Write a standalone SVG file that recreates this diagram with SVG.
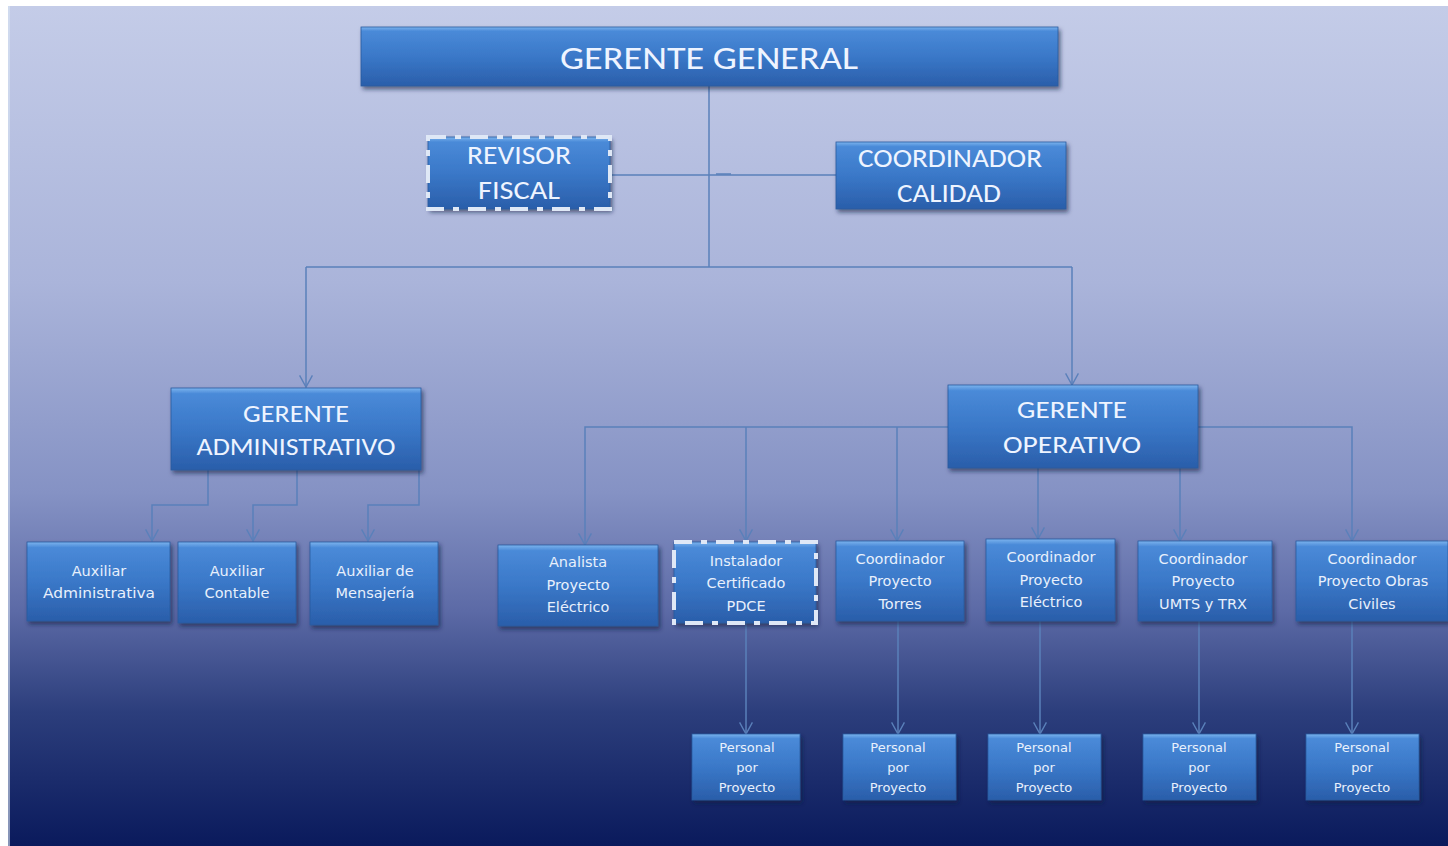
<svg xmlns="http://www.w3.org/2000/svg" width="1448" height="846" viewBox="0 0 1448 846">
<defs>
<linearGradient id="bg" x1="0" y1="0" x2="0" y2="1">
<stop offset="0" stop-color="#c4cce8"/>
<stop offset="0.33" stop-color="#aab4da"/>
<stop offset="0.58" stop-color="#8592c4"/>
<stop offset="0.72" stop-color="#5c6aa6"/>
<stop offset="0.84" stop-color="#2c3e7c"/>
<stop offset="1" stop-color="#0a1a5c"/>
</linearGradient>
<linearGradient id="box" x1="0" y1="0" x2="0" y2="1">
<stop offset="0" stop-color="#7cb4ee"/>
<stop offset="0.07" stop-color="#4a8ad8"/>
<stop offset="0.5" stop-color="#3a78c8"/>
<stop offset="1" stop-color="#2a5eaa"/>
</linearGradient>
<filter id="sh" x="-10%" y="-10%" width="125%" height="135%">
<feDropShadow dx="2" dy="3" stdDeviation="2" flood-color="#0a1a40" flood-opacity="0.6"/>
</filter>
<marker id="arr" markerUnits="userSpaceOnUse" markerWidth="14" markerHeight="14" refX="10" refY="6" orient="auto" viewBox="0 0 12 12">
<path d="M0,0.5 L10,6 L0,11.5" fill="none" stroke="#5a80ba" stroke-width="1.2"/>
</marker>
<style>
.b{fill:url(#box);filter:url(#sh);stroke:#2a5a9e;stroke-width:0.8}
.d{fill:none;stroke:#dfe8f6;stroke-width:4;stroke-dasharray:18 9 6 9}
.big{font-family:Carlito,"Open Sans","Liberation Sans",sans-serif;fill:#eef4ff;text-anchor:middle}
.sm{font-family:"DejaVu Sans",sans-serif;fill:#e8f0fc;text-anchor:middle}
.c path{fill:none;stroke:#5a80ba;stroke-width:1.5}
.c .a{marker-end:url(#arr)}
</style>
</defs>
<rect x="0" y="0" width="1448" height="846" fill="#ffffff"/>
<rect x="8" y="6" width="1440" height="840" fill="url(#bg)"/>
<rect x="8" y="6" width="2" height="840" fill="#d8e4f4" opacity="0.6"/>

<g class="c" id="connectors">
<path d="M709,86 V267"/>
<path d="M612,175 H836"/>
<path d="M716,174 H731" stroke-width="2.5"/>
<path d="M306,267 H1072"/>
<path class="a" d="M306,267 V387"/>
<path class="a" d="M1072,267 V385"/>
<path class="a" d="M208,470 V505 H152 V541"/>
<path class="a" d="M297,470 V505 H253 V541"/>
<path class="a" d="M419,470 V505 H368 V541"/>
<path class="a" d="M948,427 H585 V545"/>
<path class="a" d="M746,427 V541"/>
<path class="a" d="M897,427 V541"/>
<path class="a" d="M1198,427 H1352 V541"/>
<path class="a" d="M1038,468 V539"/>
<path class="a" d="M1180,468 V541"/>
<path class="a" d="M746,623 V734"/>
<path class="a" d="M898,621 V734"/>
<path class="a" d="M1040,621 V734"/>
<path class="a" d="M1199,621 V734"/>
<path class="a" d="M1352,621 V734"/>
</g>

<g id="gerente-general">
<rect class="b" x="361" y="27" width="697" height="59"/>
<text class="big" x="709" y="69" font-size="33" textLength="298" lengthAdjust="spacingAndGlyphs">GERENTE GENERAL</text>
</g>
<g id="revisor-fiscal">
<rect class="b" x="428" y="137" width="182" height="72"/>
<rect class="d" x="428" y="137" width="182" height="72"/>
<text class="big" x="519" y="164" font-size="26" textLength="104" lengthAdjust="spacingAndGlyphs">REVISOR</text>
<text class="big" x="519" y="199" font-size="26" textLength="82" lengthAdjust="spacingAndGlyphs">FISCAL</text>
</g>
<g id="coordinador-calidad">
<rect class="b" x="836" y="142" width="230" height="67"/>
<text class="big" x="950" y="167" font-size="26" textLength="184" lengthAdjust="spacingAndGlyphs">COORDINADOR</text>
<text class="big" x="949" y="202" font-size="26" textLength="104" lengthAdjust="spacingAndGlyphs">CALIDAD</text>
</g>
<g id="gerente-administrativo">
<rect class="b" x="171" y="388" width="250" height="82"/>
<text class="big" x="296" y="422" font-size="25" textLength="106" lengthAdjust="spacingAndGlyphs">GERENTE</text>
<text class="big" x="296" y="455" font-size="25" textLength="199" lengthAdjust="spacingAndGlyphs">ADMINISTRATIVO</text>
</g>
<g id="gerente-operativo">
<rect class="b" x="948" y="385" width="250" height="83"/>
<text class="big" x="1072" y="418" font-size="25" textLength="110" lengthAdjust="spacingAndGlyphs">GERENTE</text>
<text class="big" x="1072" y="453" font-size="25" textLength="138" lengthAdjust="spacingAndGlyphs">OPERATIVO</text>
</g>

<g id="aux-administrativa">
<rect class="b" x="27" y="542" width="143" height="79"/>
<text class="sm" x="99" y="576" font-size="14.5">Auxiliar</text>
<text class="sm" x="99" y="598" font-size="14.5" textLength="112" lengthAdjust="spacingAndGlyphs">Administrativa</text>
</g>
<g id="aux-contable">
<rect class="b" x="178" y="542" width="118" height="81"/>
<text class="sm" x="237" y="576" font-size="14.5">Auxiliar</text>
<text class="sm" x="237" y="598" font-size="14.5">Contable</text>
</g>
<g id="aux-mensajeria">
<rect class="b" x="310" y="542" width="128" height="83"/>
<text class="sm" x="375" y="576" font-size="14.5">Auxiliar de</text>
<text class="sm" x="375" y="598" font-size="14.5">Mensajería</text>
</g>

<g id="analista">
<rect class="b" x="498" y="545" width="160" height="81"/>
<text class="sm" x="578" y="567" font-size="14.5">Analista</text>
<text class="sm" x="578" y="590" font-size="14.5">Proyecto</text>
<text class="sm" x="578" y="612" font-size="14.5">Eléctrico</text>
</g>
<g id="instalador">
<rect class="b" x="674" y="542" width="142" height="81"/>
<rect class="d" x="674" y="542" width="142" height="81"/>
<text class="sm" x="746" y="566" font-size="14.5">Instalador</text>
<text class="sm" x="746" y="588" font-size="14.5">Certificado</text>
<text class="sm" x="746" y="611" font-size="14.5">PDCE</text>
</g>
<g id="coord-torres">
<rect class="b" x="836" y="541" width="128" height="80"/>
<text class="sm" x="900" y="564" font-size="14.5">Coordinador</text>
<text class="sm" x="900" y="586" font-size="14.5">Proyecto</text>
<text class="sm" x="900" y="609" font-size="14.5">Torres</text>
</g>
<g id="coord-electrico">
<rect class="b" x="986" y="539" width="129" height="82"/>
<text class="sm" x="1051" y="562" font-size="14.5">Coordinador</text>
<text class="sm" x="1051" y="585" font-size="14.5">Proyecto</text>
<text class="sm" x="1051" y="607" font-size="14.5">Eléctrico</text>
</g>
<g id="coord-umts">
<rect class="b" x="1138" y="541" width="134" height="80"/>
<text class="sm" x="1203" y="564" font-size="14.5">Coordinador</text>
<text class="sm" x="1203" y="586" font-size="14.5">Proyecto</text>
<text class="sm" x="1203" y="609" font-size="14.5">UMTS y TRX</text>
</g>
<g id="coord-obras">
<rect class="b" x="1296" y="541" width="152" height="80"/>
<text class="sm" x="1372" y="564" font-size="14.5">Coordinador</text>
<text class="sm" x="1373" y="586" font-size="14.5">Proyecto Obras</text>
<text class="sm" x="1372" y="609" font-size="14.5">Civiles</text>
</g>

<g id="personal-1">
<rect class="b" x="692" y="734" width="108" height="66"/>
<text class="sm" x="747" y="752" font-size="13">Personal</text>
<text class="sm" x="747" y="772" font-size="13">por</text>
<text class="sm" x="747" y="792" font-size="13">Proyecto</text>
</g>
<g id="personal-2">
<rect class="b" x="843" y="734" width="113" height="66"/>
<text class="sm" x="898" y="752" font-size="13">Personal</text>
<text class="sm" x="898" y="772" font-size="13">por</text>
<text class="sm" x="898" y="792" font-size="13">Proyecto</text>
</g>
<g id="personal-3">
<rect class="b" x="988" y="734" width="113" height="66"/>
<text class="sm" x="1044" y="752" font-size="13">Personal</text>
<text class="sm" x="1044" y="772" font-size="13">por</text>
<text class="sm" x="1044" y="792" font-size="13">Proyecto</text>
</g>
<g id="personal-4">
<rect class="b" x="1143" y="734" width="113" height="66"/>
<text class="sm" x="1199" y="752" font-size="13">Personal</text>
<text class="sm" x="1199" y="772" font-size="13">por</text>
<text class="sm" x="1199" y="792" font-size="13">Proyecto</text>
</g>
<g id="personal-5">
<rect class="b" x="1306" y="734" width="113" height="66"/>
<text class="sm" x="1362" y="752" font-size="13">Personal</text>
<text class="sm" x="1362" y="772" font-size="13">por</text>
<text class="sm" x="1362" y="792" font-size="13">Proyecto</text>
</g>
</svg>
